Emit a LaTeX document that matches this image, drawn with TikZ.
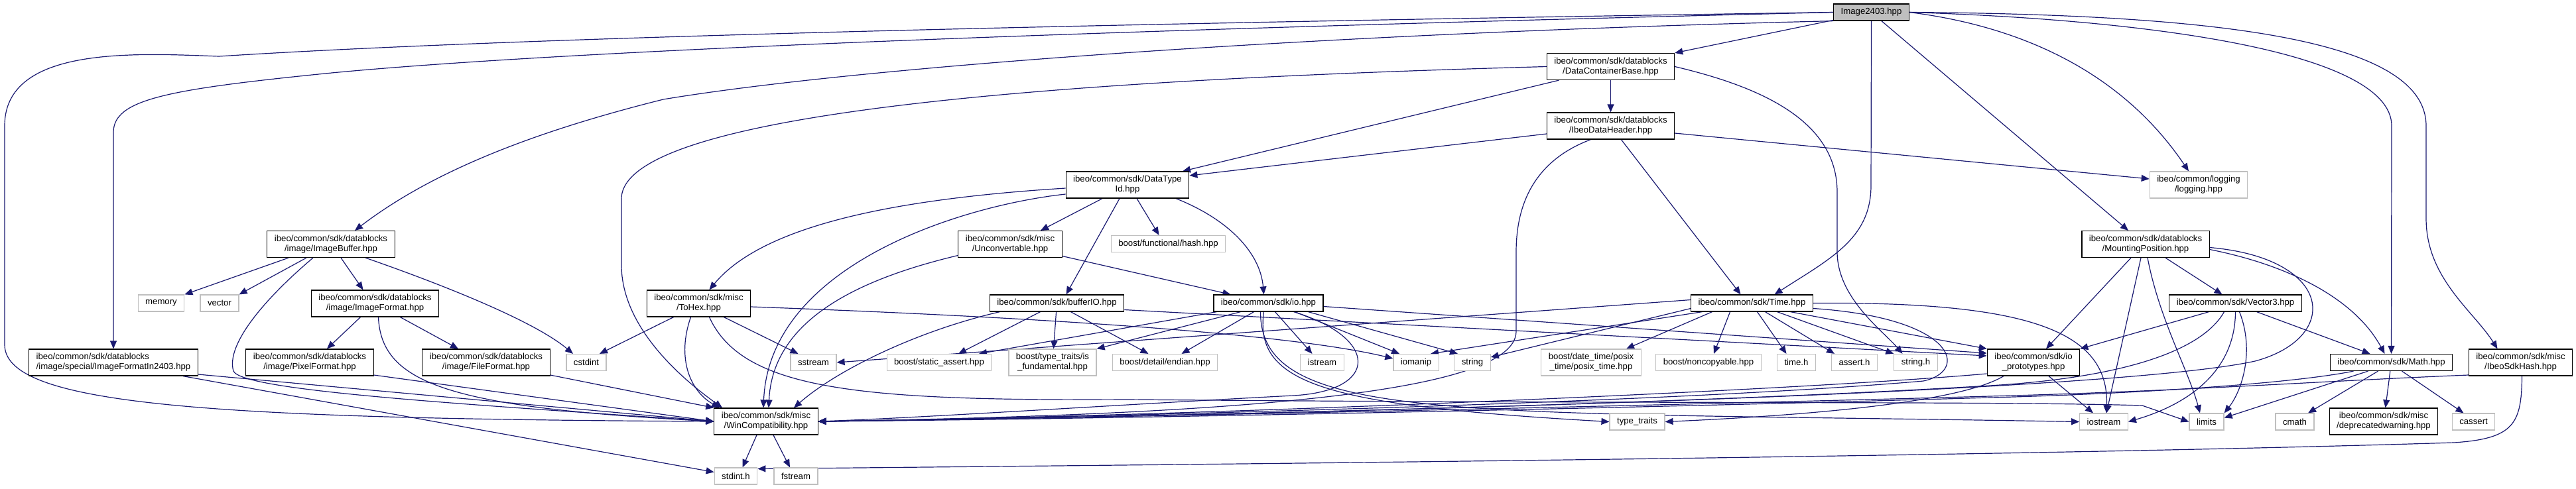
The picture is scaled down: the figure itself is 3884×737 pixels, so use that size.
\documentclass[tikz,border=0pt]{standalone}
\usepackage{fontspec}
\setmainfont{Liberation Sans}
\usetikzlibrary{arrows.meta}
\definecolor{edgeblue}{HTML}{191970}
\definecolor{extgray}{HTML}{BFBFBF}
\pgfdeclarelayer{edges}
\pgfsetlayers{edges,main}

\begin{document}
\begin{tikzpicture}[
    x=1pt, y=-1pt,
    box/.style={rectangle, draw=black, line width=1.2pt, fill=white, font=\fontsize{13.2}{15}\selectfont, align=center, inner xsep=11pt, inner ysep=3pt, minimum height=25pt},
    two/.style={minimum height=40pt},
    ext/.style={box, draw=extgray},
    mainfile/.style={box, fill=extgray},
    arr/.style={-{Triangle[length=12pt,width=10pt]}, line width=1.2pt, draw=edgeblue}
]
\useasboundingbox (0,0) rectangle (3884,737);

\node[mainfile] (root) at (2821.5,18.5) {Image2403.hpp};
\node[box, two] (dcb) at (2428.5,100.5) {ibeo/common/sdk/datablocks\\/DataContainerBase.hpp};
\node[box, two] (idh) at (2428.5,190) {ibeo/common/sdk/datablocks\\/IbeoDataHeader.hpp};
\node[box, two] (dtid) at (1700,279) {ibeo/common/sdk/DataType\\Id.hpp};
\node[ext, two] (logging) at (3315,279) {ibeo/common/logging\\/logging.hpp};
\node[box, two] (imgbuf) at (499,368.5) {ibeo/common/sdk/datablocks\\/image/ImageBuffer.hpp};
\node[box, two] (unconv) at (1523,368.5) {ibeo/common/sdk/misc\\/Unconvertable.hpp};
\node[ext] (hash) at (1761.5,368) {boost/functional/hash.hpp};
\node[box, two] (mountpos) at (3235,368.5) {ibeo/common/sdk/datablocks\\/MountingPosition.hpp};
\node[ext] (memory) at (243,457.5) {memory};
\node[ext] (vector) at (331,457.5) {vector};
\node[box, two] (imgfmt) at (565.5,458) {ibeo/common/sdk/datablocks\\/image/ImageFormat.hpp};
\node[box, two] (tohex) at (1053.5,458) {ibeo/common/sdk/misc\\/ToHex.hpp};
\node[box] (bufferio) at (1593.5,457.5) {ibeo/common/sdk/bufferIO.hpp};
\node[box] (io) at (1912.5,457.5) {ibeo/common/sdk/io.hpp};
\node[box] (time) at (2641.5,457.5) {ibeo/common/sdk/Time.hpp};
\node[box] (vector3) at (3370.5,457.5) {ibeo/common/sdk/Vector3.hpp};
\node[box, two, align=left] (imgfmt2403) at (171,547) {ibeo/common/sdk/datablocks\\/image/special/ImageFormatIn2403.hpp};
\node[box, two] (pixfmt) at (467,547) {ibeo/common/sdk/datablocks\\/image/PixelFormat.hpp};
\node[box, two] (filefmt) at (733,547) {ibeo/common/sdk/datablocks\\/image/FileFormat.hpp};
\node[ext] (cstdint) at (884,547) {cstdint};
\node[ext] (sstream) at (1226.5,547) {sstream};
\node[ext] (staticassert) at (1416,547) {boost/static\_assert.hpp};
\node[ext, two] (isfund) at (1587,547) {boost/type\_traits/is\\\_fundamental.hpp};
\node[ext] (endian) at (1756.5,547) {boost/detail/endian.hpp};
\node[ext] (istream) at (1993.5,547) {istream};
\node[ext] (iomanip) at (2135,547) {iomanip};
\node[ext] (string) at (2220,547) {string};
\node[ext, two] (posixtime) at (2399,547) {boost/date\_time/posix\\\_time/posix\_time.hpp};
\node[ext] (noncopy) at (2576,547) {boost/noncopyable.hpp};
\node[ext] (timeh) at (2708.5,547) {time.h};
\node[ext] (asserth) at (2796,547) {assert.h};
\node[ext] (stringh) at (2888.5,547) {string.h};
\node[box, two] (ioproto) at (3066,547) {ibeo/common/sdk/io\\\_prototypes.hpp};
\node[box] (math) at (3605.5,547) {ibeo/common/sdk/Math.hpp};
\node[box, two] (sdkhash) at (3800.5,547) {ibeo/common/sdk/misc\\/IbeoSdkHash.hpp};
\node[box, two] (wincompat) at (1155,636) {ibeo/common/sdk/misc\\/WinCompatibility.hpp};
\node[ext] (typetraits) at (2468.5,636.5) {type\_traits};
\node[ext] (iostream) at (3172,636.5) {iostream};
\node[ext] (limits) at (3327,636.5) {limits};
\node[ext] (cmath) at (3460,636.5) {cmath};
\node[box, two] (deprwarn) at (3594,636) {ibeo/common/sdk/misc\\/deprecatedwarning.hpp};
\node[ext] (cassert) at (3729.5,636.5) {cassert};
\node[ext] (stdinth) at (1109.5,718.5) {stdint.h};
\node[ext] (fstream) at (1200,718.5) {fstream};

\begin{pgfonlayer}{edges}
\draw[arr] (root.west) .. controls (1700,35) and (800,55) .. (330,85) .. controls (200,80) and (7,70) .. (7,190) -- (7,520) .. controls (7,610) and (300,632) .. (wincompat.west);
\draw[arr] (root.west) .. controls (1800,42) and (900,72) .. (500,110) .. controls (250,135) and (171,150) .. (171,200) -- (imgfmt2403.north);
\draw[arr] (root.south west) .. controls (2000,50) and (1300,100) .. (1000,150) .. controls (800,200) and (650,260) .. ([xshift=36pt]imgbuf.north);
\draw[arr] (root) -- (dcb.north east);
\draw[arr] (root.south) -- (2821,280) .. controls (2821,360) and (2760,390) .. ([xshift=34pt]time.north);
\draw[arr] (root) -- ([xshift=-26pt]mountpos.north);
\draw[arr] (root.east) .. controls (3050,40) and (3200,110) .. ([xshift=-15pt]logging.north);
\draw[arr] (root.east) .. controls (3250,30) and (3606,80) .. (3606,190) -- (math.north);
\draw[arr] (root.east) .. controls (3350,22) and (3658,60) .. (3658,190) -- (3658,330) .. controls (3658,420) and (3730,470) .. ([xshift=-35pt]sdkhash.north);

\draw[arr] (dcb) -- (idh);
\draw[arr] ([xshift=-78pt]dcb.south) -- ([xshift=83pt]dtid.north);
\draw[arr] (dcb.west) .. controls (1700,118) and (937,160) .. (937,300) -- (937,400) .. controls (937,500) and (1040,580) .. ([xshift=-66pt]wincompat.north);
\draw[arr] (dcb.east) .. controls (2650,130) and (2770,180) .. (2770,290) -- (2770,380) .. controls (2770,450) and (2840,500) .. ([xshift=-20pt]stringh.north);

\draw[arr] ([yshift=-12pt]idh.west) -- ([yshift=14pt]dtid.east);
\draw[arr] (idh) -- ([xshift=-17pt]time.north);
\draw[arr] ([yshift=-11pt]idh.east) -- ([yshift=9pt]logging.west);
\draw[arr] ([xshift=-30pt]idh.south) .. controls (2320,240) and (2286,300) .. (2286,380) -- (2286,500) .. controls (2286,590) and (1900,625) .. (wincompat.east);

\draw[arr] ([yshift=-5pt]dtid.west) .. controls (1350,300) and (1150,340) .. ([xshift=16pt]tohex.north);
\draw[arr] ([yshift=-14pt]dtid.west) .. controls (1450,310) and (1160,400) .. ([xshift=-4pt]wincompat.north);
\draw[arr] ([xshift=-38pt]dtid.south) -- ([xshift=46pt]unconv.north);
\draw[arr] ([xshift=-12pt]dtid.south) -- ([xshift=14pt]bufferio.north);
\draw[arr] ([xshift=14pt]dtid.south) -- ([xshift=-14pt]hash.north);
\draw[arr] ([xshift=73pt]dtid.south) .. controls (1850,330) and (1900,380) .. ([xshift=-7pt]io.north);

\draw[arr] ([yshift=-18pt]unconv.east) -- ([xshift=-57pt]io.north);
\draw[arr] ([yshift=-17pt]unconv.west) .. controls (1300,420) and (1165,480) .. ([xshift=4pt]wincompat.north);

\draw[arr] ([xshift=-64pt]imgbuf.south) -- (memory.north east);
\draw[arr] ([xshift=-37pt]imgbuf.south) -- (vector.north east);
\draw[arr] ([xshift=-27pt]imgbuf.south) .. controls (400,450) and (340,520) .. (352,560) .. controls (365,590) and (700,610) .. (wincompat.west);
\draw[arr] ([xshift=15pt]imgbuf.south) -- ([xshift=-18pt]imgfmt.north);
\draw[arr] ([xshift=52pt]imgbuf.south) .. controls (640,420) and (800,480) .. ([xshift=-20pt]cstdint.north);

\draw[arr] ([xshift=-22pt]imgfmt.south) -- ([xshift=26pt]pixfmt.north);
\draw[arr] ([xshift=5pt]imgfmt.south) .. controls (575,580) and (680,615) .. (wincompat.west);
\draw[arr] ([xshift=38pt]imgfmt.south) -- ([xshift=-42pt]filefmt.north);
\draw[arr] ([yshift=-18pt]imgfmt2403.east) -- (wincompat.west);
\draw[arr] ([xshift=105pt]imgfmt2403.south) -- ([yshift=6pt]stdinth.west);
\draw[arr] ([yshift=-19pt]pixfmt.east) -- (wincompat.west);
\draw[arr] ([yshift=-19pt]filefmt.east) -- (wincompat.north west);

\draw[arr] ([xshift=-38pt]tohex.south) -- ([xshift=20pt]cstdint.north);
\draw[arr] ([xshift=-12pt]tohex.south) .. controls (1020,540) and (1040,590) .. ([xshift=-70pt]wincompat.north);
\draw[arr] ([xshift=38pt]tohex.south) -- ([xshift=-23pt]sstream.north);
\draw[arr] ([yshift=-5pt]tohex.east) .. controls (1600,480) and (1950,505) .. ([yshift=6pt]iomanip.west);
\draw[arr] ([xshift=16pt]tohex.south) .. controls (1120,590) and (1300,605) .. (1700,603) .. controls (2500,610) and (3000,605) .. (3230,612) -- (limits.west);

\draw[arr] ([xshift=-25pt]bufferio.south) -- ([xshift=29pt]staticassert.north);
\draw[arr] (bufferio) -- (isfund);
\draw[arr] ([xshift=21pt]bufferio.south) -- ([xshift=-25pt]endian.north);
\draw[arr] ([xshift=-86pt]bufferio.south) .. controls (1380,500) and (1260,560) .. ([xshift=42pt]wincompat.north);
\draw[arr] ([yshift=-10pt]bufferio.east) -- ([yshift=10pt]ioproto.west);

\draw[arr] ([xshift=-78pt]io.south) -- ([xshift=60pt]staticassert.north);
\draw[arr] ([xshift=-42pt]io.south) -- (isfund.north east);
\draw[arr] ([xshift=-22pt]io.south) -- ([xshift=25pt]endian.north);
\draw[arr] ([xshift=10pt]io.south) -- ([xshift=-15pt]istream.north);
\draw[arr] ([xshift=40pt]io.south) -- ([xshift=-25pt]iomanip.north);
\draw[arr] ([xshift=60pt]io.south) -- ([xshift=-22pt]string.north);
\draw[arr] ([yshift=-5pt]io.east) -- ([yshift=14pt]ioproto.west);
\draw[arr] ([xshift=-7pt]io.south) .. controls (1890,580) and (2000,612) .. (typetraits.west);
\draw[arr] ([xshift=38pt]io.south) .. controls (2080,510) and (2080,590) .. (1950,597) .. controls (1700,610) and (1400,630) .. (wincompat.east);
\draw[arr] ([xshift=-12pt]io.south) .. controls (1900,640) and (2200,620) .. (iostream.west);

\draw[arr] ([xshift=-33pt]time.south) -- ([xshift=8pt]noncopy.north);
\draw[arr] ([xshift=-60pt]time.south) -- ([xshift=53pt]posixtime.north);
\draw[arr] ([yshift=-8pt]time.west) -- ([yshift=8pt]string.east);
\draw[arr] ([xshift=-75pt]time.south) -- ([xshift=22pt]iomanip.north);
\draw[arr] ([yshift=5pt]time.west) -- (sstream.east);
\draw[arr] ([xshift=8pt]time.south) -- ([xshift=-15pt]timeh.north);
\draw[arr] ([xshift=20pt]time.south) -- ([xshift=-30pt]asserth.north);
\draw[arr] ([xshift=38pt]time.south) -- (stringh.north west);
\draw[arr] ([xshift=58pt]time.south) -- (ioproto.north west);
\draw[arr] (time.east) .. controls (3060,455) and (3180,500) .. ([xshift=4pt]iostream.north);
\draw[arr] ([yshift=-8pt]time.east) .. controls (2950,480) and (2970,560) .. (2900,575) .. controls (2500,610) and (1600,630) .. (wincompat.east);

\draw[arr] ([xshift=-22pt]mountpos.south) -- ([xshift=19pt]ioproto.north);
\draw[arr] ([xshift=-7pt]mountpos.south) -- ([xshift=4pt]iostream.north);
\draw[arr] ([xshift=3pt]mountpos.south) .. controls (3255,480) and (3300,560) .. ([xshift=-10pt]limits.north);
\draw[arr] ([xshift=30pt]mountpos.south) -- ([xshift=-20pt]vector3.north);
\draw[arr] ([yshift=-8pt]mountpos.east) .. controls (3450,400) and (3550,450) .. ([xshift=-10pt]math.north);
\draw[arr] ([yshift=-5pt]mountpos.east) .. controls (3520,390) and (3530,510) .. (3400,545) .. controls (3150,600) and (1700,630) .. (wincompat.east);

\draw[arr] ([xshift=-40pt]vector3.south) -- (ioproto.north east);
\draw[arr] ([xshift=-17pt]vector3.south) .. controls (3320,530) and (3200,570) .. (3000,582) .. controls (2500,612) and (1700,630) .. (wincompat.east);
\draw[arr] ([xshift=32pt]vector3.south) -- ([xshift=-32pt]math.north);
\draw[arr] ([xshift=6pt]vector3.south) .. controls (3400,530) and (3380,590) .. (limits.north east);
\draw[arr] (vector3.south) .. controls (3370,560) and (3300,610) .. (iostream.east);

\draw[arr] ([xshift=-35pt]math.south) -- ([yshift=6pt]limits.east);
\draw[arr] ([xshift=-20pt]math.south) -- ([xshift=20pt]cmath.north);
\draw[arr] (math) -- (deprwarn);
\draw[arr] ([xshift=16pt]math.south) -- ([xshift=-15pt]cassert.north);
\draw[arr] ([xshift=-57pt]math.south) .. controls (3450,580) and (3200,595) .. (3000,600) .. controls (2500,615) and (1700,632) .. (wincompat.east);

\draw[arr] ([xshift=23pt]ioproto.south) -- ([xshift=-16pt]iostream.north);
\draw[arr] ([yshift=-17pt]ioproto.west) .. controls (2700,590) and (1800,628) .. (wincompat.east);
\draw[arr] ([xshift=-45pt]ioproto.south) .. controls (2950,610) and (2700,628) .. (typetraits.east);

\draw[arr] ([yshift=-19pt]sdkhash.west) .. controls (3500,575) and (3300,590) .. (3000,598) .. controls (2500,612) and (1700,630) .. (wincompat.east);
\draw[arr] ([xshift=2pt]sdkhash.south) .. controls (3802,640) and (3790,662) .. (3700,668) .. controls (3000,690) and (1700,702) .. ([yshift=11pt]stdinth.east);

\draw[arr] ([xshift=-14pt]wincompat.south) -- ([xshift=10pt]stdinth.north);
\draw[arr] ([xshift=11pt]wincompat.south) -- ([xshift=-9pt]fstream.north);
\end{pgfonlayer}
\end{tikzpicture}
\end{document}
